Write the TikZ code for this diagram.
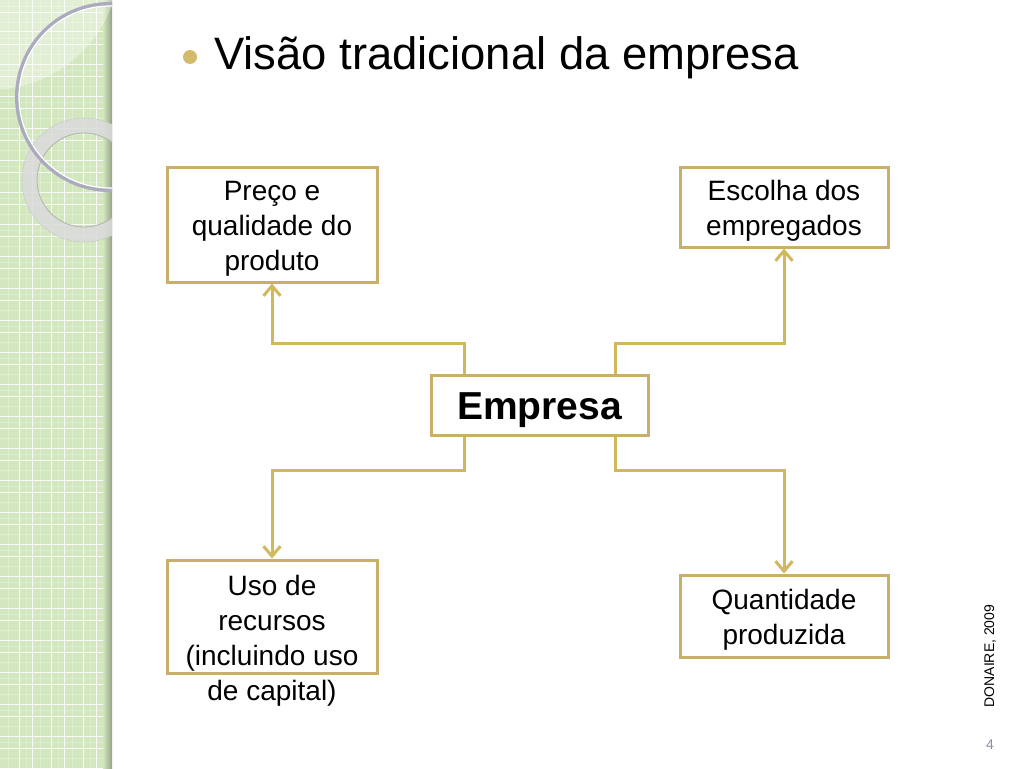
\documentclass[tikz,border=0pt]{standalone}
\usepackage{fontspec}
\setmainfont{Liberation Sans}
\usetikzlibrary{arrows.meta,calc}
\definecolor{boxc}{HTML}{C8B06A}
\definecolor{connc}{HTML}{D2B85C}
\definecolor{stripg}{HTML}{D3E7BE}
\definecolor{bulletc}{HTML}{D2BC6C}
\definecolor{ringc}{HTML}{ABABBD}
\definecolor{pagec}{HTML}{8C8CA4}
\newcommand\firststrut{\rule{0pt}{28pt}}
\begin{document}
\begin{tikzpicture}[x=1pt,y=-1pt,
  box/.style={draw=boxc,line width=3pt,fill=white,inner sep=0pt,align=center,
    font=\fontsize{28}{35}\selectfont},
  conn/.style={draw=connc,line width=3pt,-{Straight Barb[length=10pt,width=17pt]}},
  gridline/.style={white,line width=1pt,opacity=0.85}]
\useasboundingbox (0,0) rectangle (1024,768);
\fill[white] (0,0) rectangle (1024,768);
% left decorative strip
\fill[stripg] (0,0) rectangle (112,768);
\foreach \k in {0,...,24}{
  \draw[gridline] (0,{32*\k}) -- (112,{32*\k});
  \draw[gridline] (0,{12.5+32*\k}) -- (112,{12.5+32*\k});
  \draw[white,opacity=0.25,line width=0.5pt] (0,{6+32*\k}) -- (112,{6+32*\k});
  \draw[white,opacity=0.25,line width=0.5pt] (0,{22+32*\k}) -- (112,{22+32*\k});
}
\foreach \k in {0,1,2}{
  \draw[gridline] ({19+32*\k},0) -- ({19+32*\k},768);
  \draw[gridline] ({32+32*\k},0) -- ({32+32*\k},768);
  \draw[white,opacity=0.25,line width=0.5pt] ({8+32*\k},0) -- ({8+32*\k},768);
  \draw[white,opacity=0.25,line width=0.5pt] ({26+32*\k},0) -- ({26+32*\k},768);
}
\shade[left color=stripg,right color=black!30!stripg] (103,0) rectangle (112,768);
\begin{scope}
  \clip (0,0) rectangle (112,768);
  \fill[white,opacity=0.35] (-10,-40) circle[radius=130];
  \fill[black!14,opacity=0.85,even odd rule] (84,180) circle[radius=62] (84,180) circle[radius=47];
  \draw[black!30,line width=0.8pt] (84,180) circle[radius=47];
  \draw[black!20,line width=0.6pt] (84,180) circle[radius=62];
  \draw[ringc,line width=4pt] (110,97) circle[radius=93];
  \draw[white,line width=1.2pt] (110,97) circle[radius=91];
\end{scope}
% title
\node[circle,fill=bulletc,minimum size=14pt,inner sep=0pt] (bul) at (190,57) {};
\node[anchor=base west,inner sep=0pt,font=\fontsize{45.4}{54}\selectfont] (title) at (214,70) {Visão tradicional da empresa};
% boxes
\node[box,minimum width=210pt,minimum height=115pt] (b1) at (272,224.5) {\firststrut Preço e\\qualidade do\\produto};
\node[box,minimum width=208pt,minimum height=80pt] (b2) at (784,207) {\firststrut Escolha dos\\empregados};
\node[box,minimum width=217pt,minimum height=60pt,text height=28pt,text depth=0pt,
  font=\fontsize{39}{45}\selectfont\bfseries] (emp) at (539.5,405) {Empresa};
\node[box,minimum width=210pt,minimum height=113pt] (b3) at (272,616.5) {};
\node[align=center,inner sep=0pt,font=\fontsize{28}{35}\selectfont] (t3) at (272,640.5) {Uso de\\recursos\\(incluindo uso\\de capital)};
\node[box,minimum width=208pt,minimum height=82pt] (b4) at (784,616) {\firststrut Quantidade\\produzida};
% connectors
\coordinate (yt) at (0,343);
\coordinate (yb) at (0,470);
\draw[conn] ([xshift=-75.5pt]emp.north) |- (b1.south |- yt) -- (b1.south);
\draw[conn] ([xshift=75.5pt]emp.north) |- (b2.south |- yt) -- (b2.south);
\draw[conn] ([xshift=-75.5pt]emp.south) |- (b3.north |- yb) -- (b3.north);
\draw[conn] ([xshift=75.5pt]emp.south) |- (b4.north |- yb) -- (b4.north);
% footer
\node[rotate=90,inner sep=0pt,font=\fontsize{14}{16}\selectfont] (cite) at (990,656) {DONAIRE, 2009};
\node[inner sep=0pt,text=pagec,font=\fontsize{14}{16}\selectfont] (pg) at (990,745) {4};
\end{tikzpicture}
\end{document}
